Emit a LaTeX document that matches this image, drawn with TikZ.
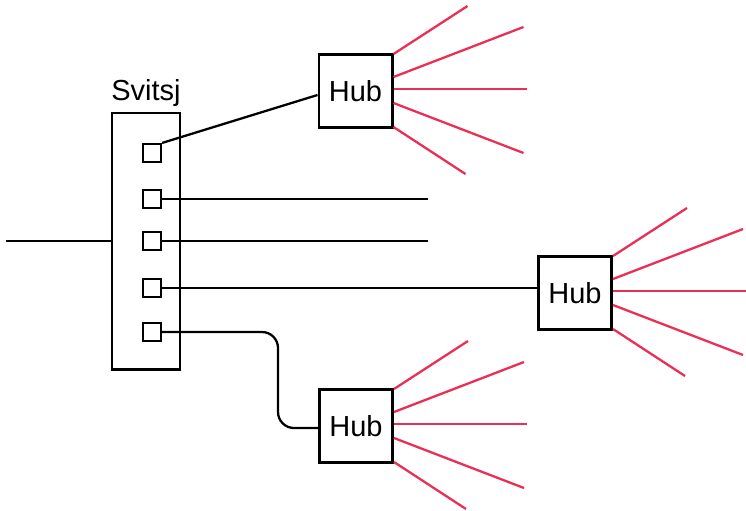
\documentclass[tikz,border=0pt]{standalone}
\usepackage{fontspec}
\setsansfont{Liberation Sans}
\usetikzlibrary{positioning,calc}
\definecolor{fanred}{RGB}{234,46,86}
\tikzset{
  box/.style={draw,line width=1.7pt,inner sep=0pt,font=\sffamily\fontsize{16.5}{18}\selectfont},
  port/.style={draw,line width=1.2pt,minimum size=3.6mm,inner sep=0pt},
  wire/.style={line width=1.3pt},
  fan/.style={line width=1.3pt,fanred}
}
\begin{document}
\begin{tikzpicture}[x=0.2mm,y=-0.2mm]
\useasboundingbox (0,0) rectangle (746,510);
% switch with its ports
\node[box,minimum width=13.6mm,minimum height=51.2mm] (sw) at (146,241) {};
\node[above=1mm of sw,inner sep=0pt,font=\sffamily\fontsize{16.5}{18}\selectfont] (swlabel) {Svitsj};
\foreach \n/\y in {1/153,2/199,3/241,4/288,5/332}
  \node[port] (p\n) at (152,\y) {};
% hubs
\node[box,minimum size=14.6mm] (h1) at (355.5,91) {Hub};
\node[box,minimum size=14.6mm] (h2) at (575,293) {Hub};
\node[box,minimum size=14.6mm] (h3) at (356,426) {Hub};
% wires
\coordinate (in) at (6,241);
\coordinate (e2) at (428,199);
\coordinate (e3) at (428,241);
\coordinate (bend) at (278,428);
\draw[wire] (in) -- (in -| sw.west);
\draw[wire] (p1.north east) -- ($(h1.west)+(0,4)$);
\draw[wire] (p2.east) -- (e2);
\draw[wire] (p3.east) -- (e3);
\draw[wire] (p4.east) -- (p4.east -| h2.west);
\draw[wire,rounded corners=3.2mm] (p5.east) -| (bend) -- (bend -| h3.west);
% red fan out of each hub
\foreach \h in {h1,h2,h3}
  \foreach \k/\sy/\ex/\ey in {1/-37/74/-85,2/-14/130/-64,3/-2/133/-2,4/12/130/62,5/36/72/83}{
    \coordinate (\h s\k) at ($(\h.east)+(0,\sy)$);
    \coordinate (\h e\k) at ($(\h.east)+(\ex,\ey)$);
    \draw[fan] (\h s\k) -- (\h e\k);
  }
\end{tikzpicture}
\end{document}
